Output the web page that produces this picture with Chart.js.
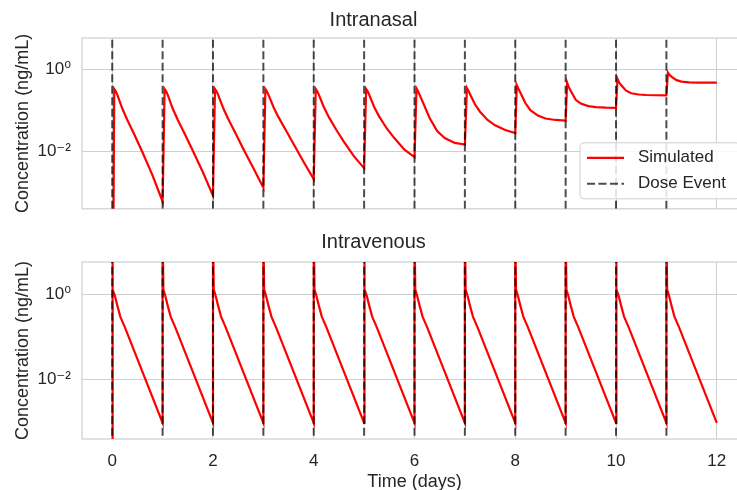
<!DOCTYPE html>
<html>
<head>
<meta charset="utf-8">
<script src="https://cdn.jsdelivr.net/npm/chart.js@4.4.1/dist/chart.umd.min.js"></script>
<style>
    html, body { margin: 0; padding: 0; background: #fff; overflow: hidden; }
    #wrap { position: relative; width: 737px; height: 490px; overflow: hidden; }
    canvas { position: absolute; left: 0; }
    #nasalChart { top: 0; }
    #venousChart { top: 230px; }
</style>
</head>
<body>
<div id="wrap">
    <canvas id="nasalChart" width="760" height="230"></canvas>
    <canvas id="venousChart" width="760" height="270"></canvas>
</div>
<script>
// dose events (days)
var doseTimes = [0, 1, 2, 3, 4, 5, 6, 7, 8, 9, 10, 11];
var xTicks = [0, 2, 4, 6, 8, 10, 12];
var yTicks = [0.01, 1];
var yTickLabels = ['10⁻²', '10⁰'];

// intranasal simulated concentration (ng/mL)
// (1e-9 stands in for the zero starting level, below the axis)
var nasalTime = [
    0, 0.04, 0.07, 0.1, 0.2, 0.3, 0.45, 0.6, 0.8, 1.0,
    1.04, 1.07, 1.1, 1.2, 1.3, 1.45, 1.6, 1.8, 2.0,
    2.04, 2.07, 2.1, 2.2, 2.3, 2.45, 2.6, 2.8, 3.0,
    3.04, 3.07, 3.1, 3.2, 3.3, 3.45, 3.6, 3.8, 4.0,
    4.04, 4.07, 4.1, 4.2, 4.3, 4.45, 4.6, 4.8, 5.0,
    5.04, 5.07, 5.1, 5.2, 5.3, 5.45, 5.6, 5.8, 6.0,
    6.04, 6.07, 6.1, 6.2, 6.3, 6.45, 6.6, 6.8, 7.0,
    7.04, 7.07, 7.1, 7.2, 7.3, 7.45, 7.6, 7.8, 8.0,
    8.03, 8.06, 8.1, 8.2, 8.3, 8.45, 8.6, 8.8, 9.0,
    9.03, 9.06, 9.1, 9.2, 9.3, 9.45, 9.6, 9.8, 10.0,
    10.03, 10.06, 10.1, 10.2, 10.3, 10.45, 10.6, 10.8, 11.0,
    11.03, 11.06, 11.1, 11.2, 11.3, 11.45, 11.6, 11.8, 12.0
];
var nasalConc = [
    1e-9, 0.33, 0.29, 0.24, 0.11, 0.058, 0.024, 0.0095, 0.0026, 0.0006,
    0.33, 0.29, 0.24, 0.11, 0.059, 0.025, 0.0103, 0.0031, 0.00083,
    0.33, 0.29, 0.24, 0.115, 0.062, 0.027, 0.0115, 0.0039, 0.0013,
    0.33, 0.29, 0.24, 0.12, 0.068, 0.032, 0.015, 0.0055, 0.0021,
    0.33, 0.29, 0.24, 0.12, 0.068, 0.033, 0.017, 0.0075, 0.0039,
    0.33, 0.29, 0.24, 0.12, 0.07, 0.036, 0.021, 0.011, 0.0072,
    0.34, 0.29, 0.24, 0.125, 0.065, 0.031, 0.021, 0.016, 0.0146,
    0.35, 0.3, 0.25, 0.14, 0.092, 0.058, 0.043, 0.033, 0.028,
    0.41, 0.34, 0.27, 0.15, 0.1, 0.074, 0.063, 0.058, 0.056,
    0.47, 0.37, 0.3, 0.18, 0.145, 0.126, 0.119, 0.116, 0.115,
    0.58, 0.48, 0.41, 0.3, 0.26, 0.242, 0.235, 0.232, 0.23,
    0.83, 0.73, 0.66, 0.54, 0.5, 0.48, 0.472, 0.47, 0.47
];

// intravenous simulated concentration (ng/mL)
var venousTime = [
    0, 0, 0.015, 0.05, 0.1, 0.16, 0.25, 1,
    1, 1.015, 1.05, 1.1, 1.16, 1.25, 2,
    2, 2.015, 2.05, 2.1, 2.16, 2.25, 3,
    3, 3.015, 3.05, 3.1, 3.16, 3.25, 4,
    4, 4.015, 4.05, 4.1, 4.16, 4.25, 5,
    5, 5.015, 5.05, 5.1, 5.16, 5.25, 6,
    6, 6.015, 6.05, 6.1, 6.16, 6.25, 7,
    7, 7.015, 7.05, 7.1, 7.16, 7.25, 8,
    8, 8.015, 8.05, 8.1, 8.16, 8.25, 9,
    9, 9.015, 9.05, 9.1, 9.16, 9.25, 10,
    10, 10.015, 10.05, 10.1, 10.16, 10.25, 11,
    11, 11.015, 11.05, 11.1, 11.16, 11.25, 12
];
var venousConc = [
    1e-9, 40, 1.3, 0.95, 0.55, 0.3, 0.17, 0.00095,
    40, 1.3, 0.95, 0.55, 0.3, 0.17, 0.00095,
    40, 1.3, 0.95, 0.55, 0.3, 0.17, 0.00095,
    40, 1.3, 0.95, 0.55, 0.3, 0.17, 0.00095,
    40, 1.3, 0.95, 0.55, 0.3, 0.17, 0.00095,
    40, 1.3, 0.95, 0.55, 0.3, 0.17, 0.00095,
    40, 1.3, 0.95, 0.55, 0.3, 0.17, 0.00095,
    40, 1.3, 0.95, 0.55, 0.3, 0.17, 0.00095,
    40, 1.3, 0.95, 0.55, 0.3, 0.17, 0.00095,
    40, 1.3, 0.95, 0.55, 0.3, 0.17, 0.00095,
    40, 1.3, 0.95, 0.55, 0.3, 0.17, 0.00095,
    40, 1.3, 0.95, 0.55, 0.3, 0.17, 0.00095
];

var FONT = "'Liberation Sans', Arial, 'DejaVu Sans', sans-serif";
var TEXT = '#262626';
var GRID = '#cfcfcf';
var RED = '#ff0000';
var DOSE = 'rgba(0, 0, 0, 0.7)';

function toPoints(xs, ys) {
    return xs.map(function (x, i) { return { x: x, y: ys[i] }; });
}

// vertical dashed lines spanning the axis, broken by nulls
function dosePoints() {
    var pts = [];
    doseTimes.forEach(function (t) {
        pts.push({ x: t, y: 1e-9 }, { x: t, y: 1000 }, { x: t, y: null });
    });
    return pts;
}

function makeData(xs, ys) {
    return {
        datasets: [{
            label: 'Simulated',
            data: toPoints(xs, ys),
            borderColor: RED,
            borderWidth: 2.2,
            pointRadius: 0,
            tension: 0,
            order: 1
        }, {
            label: 'Dose Event',
            data: dosePoints(),
            borderColor: DOSE,
            borderWidth: 2,
            borderDash: [8, 3.5],
            pointRadius: 0,
            spanGaps: false,
            order: 0
        }]
    };
}

var framePlugin = {
    id: 'frame',
    beforeDatasetsDraw: function (chart) {
        var a = chart.chartArea, ctx = chart.ctx;
        ctx.save();
        ctx.strokeStyle = GRID;
        ctx.lineWidth = 1.25;
        ctx.strokeRect(a.left, a.top, a.right - a.left, a.bottom - a.top);
        ctx.restore();
    }
};

var legendPlugin = {
    id: 'insideLegend',
    afterDatasetsDraw: function (chart) {
        var ctx = chart.ctx, a = chart.chartArea;
        var x0 = a.right - 167, y0 = a.bottom - 66, w = 160, h = 56, r = 4;
        ctx.save();
        ctx.beginPath();
        ctx.moveTo(x0 + r, y0);
        ctx.arcTo(x0 + w, y0, x0 + w, y0 + h, r);
        ctx.arcTo(x0 + w, y0 + h, x0, y0 + h, r);
        ctx.arcTo(x0, y0 + h, x0, y0, r);
        ctx.arcTo(x0, y0, x0 + w, y0, r);
        ctx.closePath();
        ctx.fillStyle = 'rgba(255, 255, 255, 0.85)';
        ctx.fill();
        ctx.strokeStyle = GRID;
        ctx.lineWidth = 1;
        ctx.stroke();

        ctx.lineWidth = 2.2;
        ctx.strokeStyle = RED;
        ctx.beginPath();
        ctx.moveTo(x0 + 7, y0 + 15);
        ctx.lineTo(x0 + 44, y0 + 15);
        ctx.stroke();

        ctx.lineWidth = 2;
        ctx.strokeStyle = DOSE;
        ctx.setLineDash([8, 3.5]);
        ctx.beginPath();
        ctx.moveTo(x0 + 7, y0 + 41);
        ctx.lineTo(x0 + 44, y0 + 41);
        ctx.stroke();
        ctx.setLineDash([]);

        ctx.fillStyle = TEXT;
        ctx.font = '17px ' + FONT;
        ctx.textBaseline = 'middle';
        ctx.fillText('Simulated', x0 + 58, y0 + 15);
        ctx.fillText('Dose Event', x0 + 58, y0 + 41);
        ctx.restore();
    }
};

function makeOptions(title, showX, titlePad, xHeight) {
    return {
        responsive: false,
        animation: false,
        layout: { padding: { left: 0, right: 13, top: 0, bottom: 0 } },
        plugins: {
            legend: { display: false },
            tooltip: { enabled: false },
            title: {
                display: true,
                text: title,
                color: TEXT,
                font: { family: FONT, size: 20, weight: 'normal' },
                padding: titlePad
            }
        },
        scales: {
            x: {
                type: 'linear',
                min: -0.6,
                max: 12.6,
                bounds: 'data',
                afterBuildTicks: function (s) { s.ticks = xTicks.map(function (v) { return { value: v }; }); },
                afterFit: function (s) { s.height = xHeight; },
                grid: { color: GRID, lineWidth: 1, drawTicks: false },
                border: { display: false },
                ticks: {
                    display: showX,
                    padding: 12,
                    color: TEXT,
                    maxRotation: 0,
                    font: { family: FONT, size: 17 }
                },
                title: {
                    display: showX,
                    text: 'Time (days)',
                    color: TEXT,
                    font: { family: FONT, size: 18 },
                    padding: { top: 0, bottom: 7 }
                }
            },
            y: {
                type: 'logarithmic',
                min: 3.98e-4,
                max: 5.75,
                bounds: 'data',
                afterBuildTicks: function (s) { s.ticks = yTicks.map(function (v) { return { value: v }; }); },
                afterFit: function (s) { s.width = 82; },
                grid: { color: GRID, lineWidth: 1, drawTicks: false },
                border: { display: false },
                ticks: {
                    padding: 11,
                    color: TEXT,
                    font: { family: FONT, size: 17 },
                    callback: function (v) { return yTickLabels[yTicks.indexOf(v)]; }
                },
                title: {
                    display: true,
                    text: 'Concentration (ng/mL)',
                    color: TEXT,
                    font: { family: FONT, size: 18 },
                    padding: { top: 12, bottom: 0 }
                }
            }
        }
    };
}

new Chart(document.getElementById('nasalChart'), {
    type: 'line',
    data: makeData(nasalTime, nasalConc),
    options: makeOptions('Intranasal', false, { top: 8, bottom: 6 }, 13),
    plugins: [framePlugin, legendPlugin]
});

new Chart(document.getElementById('venousChart'), {
    type: 'line',
    data: makeData(venousTime, venousConc),
    options: makeOptions('Intravenous', true, { top: 0, bottom: 8 }, 61),
    plugins: [framePlugin]
});
</script>
</body>
</html>
